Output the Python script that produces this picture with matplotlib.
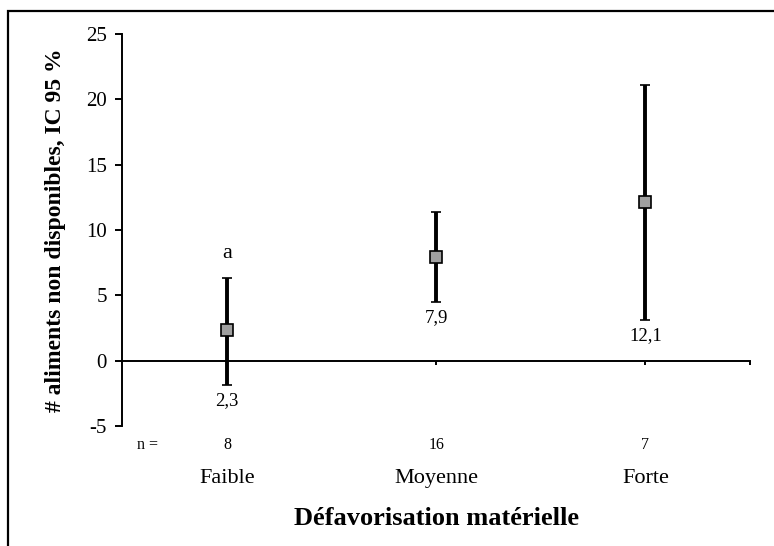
import matplotlib.pyplot as plt
from matplotlib.patches import Rectangle
from matplotlib import transforms

plt.rcParams['font.family'] = ['Liberation Serif', 'DejaVu Serif']
plt.rcParams['axes.unicode_minus'] = False

categories = ['Faible', 'Moyenne', 'Forte']
n_values = ['8', '16', '7']
means = [2.3, 7.9, 12.1]
ci_low = [-1.9, 4.5, 3.1]
ci_high = [6.3, 11.4, 21.1]
mean_labels = ['2,3', '7,9', '12,1']
letters = ['a', '', '']

x = [1, 2, 3]
yerr = [[m - lo for m, lo in zip(means, ci_low)],
        [hi - m for m, hi in zip(means, ci_high)]]

fig = plt.figure(figsize=(7.74, 5.46), dpi=100)
ax = fig.add_axes([0.158, 0.22, 0.811, 0.718])

# cadre autour du graphique
fig.patches.append(Rectangle((8 / 774, -0.1), 1.1, 1.1 - 11 / 546,
                             transform=fig.transFigure, fill=False,
                             edgecolor='black', linewidth=1.6))

ax.errorbar(x, means, yerr=yerr, fmt='s', color='black', ecolor='black',
            elinewidth=2.8, capsize=3.5, capthick=2.8,
            markerfacecolor='#a0a0a0', markeredgecolor='black',
            markeredgewidth=1.2, markersize=8.5, zorder=3)

for xi, lo, lab in zip(x, ci_low, mean_labels):
    ax.annotate(lab, (xi, lo), xytext=(0, -5), textcoords='offset points',
                ha='center', va='top', fontsize=13.5)
for xi, hi, lt in zip(x, ci_high, letters):
    if lt:
        ax.annotate(lt, (xi, hi), xytext=(0, 11), textcoords='offset points',
                    ha='center', va='bottom', fontsize=16)

ax.set_xlim(0.5, 3.5)
ax.set_ylim(-5, 25)
ax.set_yticks([-5, 0, 5, 10, 15, 20, 25])
ax.tick_params(axis='y', direction='out', length=5, width=1.4, labelsize=15, pad=6)

ax.spines['top'].set_visible(False)
ax.spines['right'].set_visible(False)
ax.spines['bottom'].set_position(('data', 0))
ax.spines['left'].set_linewidth(1.4)
ax.spines['bottom'].set_linewidth(1.4)
ax.set_xticks([1, 2, 3, 3.5])
ax.set_xticklabels([])
ax.tick_params(axis='x', direction='out', length=3, width=1.4)

trans = transforms.blended_transform_factory(ax.transData, ax.transAxes)
ax.text(0.62, -0.048, 'n =', transform=trans, ha='center', va='center', fontsize=11.5)
for xi, nv, cat in zip(x, n_values, categories):
    ax.text(xi, -0.048, nv, transform=trans, ha='center', va='center', fontsize=11.5)
    ax.text(xi, -0.133, cat, transform=trans, ha='center', va='center', fontsize=16)

ax.set_xlabel('Défavorisation matérielle', fontsize=19, fontweight='bold')
ax.xaxis.set_label_coords(0.5, -0.235)
ax.xaxis.label.set_va('center')
ax.set_ylabel('# aliments non disponibles, IC 95 %', fontsize=17, fontweight='bold')
ax.yaxis.set_label_coords(-0.107, 0.5)
ax.yaxis.label.set_va('center')

fig.savefig('out.png', dpi=100)
